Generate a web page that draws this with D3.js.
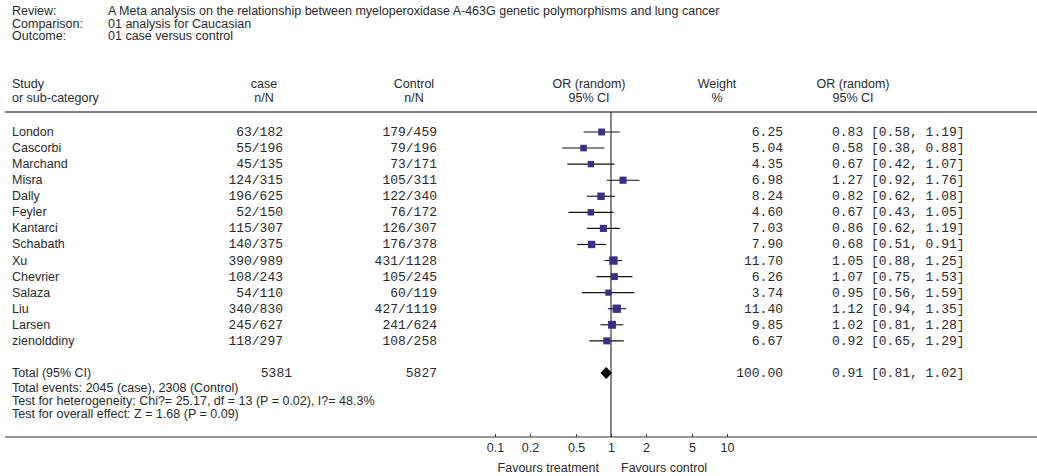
<!DOCTYPE html>
<html lang="en">
<head>
  <meta charset="UTF-8">
  <title>Forest plot: MPO A-463G and lung cancer</title>
  <script src="https://cdn.jsdelivr.net/npm/d3@7.9.0/dist/d3.min.js"></script>
  <style>
    html, body { margin: 0; padding: 0; background: #fff; }
    svg { display: block; }
    .sans { font-family: "Liberation Sans", Arial, sans-serif; font-size: 12.5px; fill: #2a2a2a; }
    .mono { font-family: "Liberation Mono", "Courier New", monospace; font-size: 13px; fill: #2a2a2a; }
  </style>
</head>
<body>
  <svg id="chart" width="1037" height="476"></svg>

  <script>
    // --- data ---
    const headerLabels = ["Review:", "Comparison:", "Outcome:"];
    const headerValues = [
      "A Meta analysis on the relationship between myeloperoxidase A-463G genetic polymorphisms and lung cancer",
      "01 analysis for Caucasian",
      "01 case versus control"
    ];
    const studies = ["London", "Cascorbi", "Marchand", "Misra", "Dally", "Feyler", "Kantarci",
      "Schabath", "Xu", "Chevrier", "Salaza", "Liu", "Larsen", "zienolddiny"];
    const caseN = ["63/182", "55/196", "45/135", "124/315", "196/625", "52/150", "115/307",
      "140/375", "390/989", "108/243", "54/110", "340/830", "245/627", "118/297"];
    const controlN = ["179/459", "79/196", "73/171", "105/311", "122/340", "76/172", "126/307",
      "176/378", "431/1128", "105/245", "60/119", "427/1119", "241/624", "108/258"];
    const weights = [6.25, 5.04, 4.35, 6.98, 8.24, 4.60, 7.03, 7.90, 11.70, 6.26, 3.74, 11.40, 9.85, 6.67];
    const orVals = [0.83, 0.58, 0.67, 1.27, 0.82, 0.67, 0.86, 0.68, 1.05, 1.07, 0.95, 1.12, 1.02, 0.92];
    const ciLow = [0.58, 0.38, 0.42, 0.92, 0.62, 0.43, 0.62, 0.51, 0.88, 0.75, 0.56, 0.94, 0.81, 0.65];
    const ciHigh = [1.19, 0.88, 1.07, 1.76, 1.08, 1.05, 1.19, 0.91, 1.25, 1.53, 1.59, 1.35, 1.28, 1.29];
    const total = { label: "Total (95% CI)", caseN: "5381", controlN: "5827", weight: 100.00, or: 0.91, lo: 0.81, hi: 1.02 };
    const footLines = [
      "Total events: 2045 (case), 2308 (Control)",
      "Test for heterogeneity: Chi?= 25.17, df = 13 (P = 0.02), I?= 48.3%",
      "Test for overall effect: Z = 1.68 (P = 0.09)"
    ];
    const tickValues = [0.1, 0.2, 0.5, 1, 2, 5, 10];

    const svg = d3.select("#chart");

    // scales
    const x = d3.scaleLog().domain([0.1, 10]).range([495, 727]);
    const y = d3.scaleLinear().domain([0, 15]).range([132, 373]); // row 14 left empty
    const boxSize = d3.scaleLinear().domain([3, 12]).range([6, 8.5]);

    const lineTop = 112, axisY = 437;

    // header block
    headerLabels.forEach((t, i) => {
      svg.append("text").attr("class", "sans").attr("x", 12).attr("y", 15 + i * 12.5).text(t);
      svg.append("text").attr("class", "sans").attr("x", 108).attr("y", 15 + i * 12.5).text(headerValues[i]);
    });

    // column headers
    const colHead = [
      { x: 12, anchor: "start", a: "Study", b: "or sub-category" },
      { x: 264, anchor: "middle", a: "case", b: "n/N" },
      { x: 414, anchor: "middle", a: "Control", b: "n/N" },
      { x: 589, anchor: "middle", a: "OR (random)", b: "95% CI" },
      { x: 717, anchor: "middle", a: "Weight", b: "%" },
      { x: 853, anchor: "middle", a: "OR (random)", b: "95% CI" }
    ];
    colHead.forEach(c => {
      svg.append("text").attr("class", "sans").attr("x", c.x).attr("y", 88).attr("text-anchor", c.anchor).text(c.a);
      svg.append("text").attr("class", "sans").attr("x", c.x).attr("y", 102).attr("text-anchor", c.anchor).text(c.b);
    });

    // separator line under the headers
    svg.append("line").attr("x1", 5).attr("x2", 1037).attr("y1", lineTop).attr("y2", lineTop)
      .attr("stroke", "#555").attr("stroke-width", 1.6);

    // line of no effect
    svg.append("line").attr("x1", x(1)).attr("x2", x(1)).attr("y1", lineTop).attr("y2", axisY)
      .attr("stroke", "#111").attr("stroke-width", 1);

    const fmt = d3.format(".2f");

    // study rows
    const rows = svg.append("g").selectAll("g").data(studies).join("g")
      .attr("transform", (d, i) => `translate(0,${y(i)})`);

    rows.append("text").attr("class", "sans").attr("x", 12).attr("y", 4).text(d => d);
    rows.append("text").attr("class", "mono").attr("x", 283).attr("y", 4).attr("text-anchor", "end")
      .text((d, i) => caseN[i]);
    rows.append("text").attr("class", "mono").attr("x", 437).attr("y", 4).attr("text-anchor", "end")
      .text((d, i) => controlN[i]);
    rows.append("line")
      .attr("x1", (d, i) => x(ciLow[i])).attr("x2", (d, i) => x(ciHigh[i]))
      .attr("y1", 0).attr("y2", 0).attr("stroke", "#111").attr("stroke-width", 1.1);
    rows.append("rect")
      .attr("x", (d, i) => x(orVals[i]) - boxSize(weights[i]) / 2)
      .attr("y", (d, i) => -boxSize(weights[i]) / 2)
      .attr("width", (d, i) => boxSize(weights[i]))
      .attr("height", (d, i) => boxSize(weights[i]))
      .attr("fill", "#3d2f86");
    rows.append("text").attr("class", "mono").attr("x", 783).attr("y", 4).attr("text-anchor", "end")
      .text((d, i) => fmt(weights[i]));
    rows.append("text").attr("class", "mono").attr("x", 832).attr("y", 4)
      .text((d, i) => `${fmt(orVals[i])} [${fmt(ciLow[i])}, ${fmt(ciHigh[i])}]`);

    // total row
    const ty = y(15);
    svg.append("text").attr("class", "sans").attr("x", 12).attr("y", ty + 4).text(total.label);
    svg.append("text").attr("class", "mono").attr("x", 292).attr("y", ty + 4).attr("text-anchor", "end").text(total.caseN);
    svg.append("text").attr("class", "mono").attr("x", 437).attr("y", ty + 4).attr("text-anchor", "end").text(total.controlN);
    svg.append("path")
      .attr("d", `M${x(total.lo)},${ty} L${x(total.or)},${ty - 6} L${x(total.hi)},${ty} L${x(total.or)},${ty + 6} Z`)
      .attr("fill", "#000");
    svg.append("text").attr("class", "mono").attr("x", 783).attr("y", ty + 4).attr("text-anchor", "end").text(fmt(total.weight));
    svg.append("text").attr("class", "mono").attr("x", 832).attr("y", ty + 4)
      .text(`${fmt(total.or)} [${fmt(total.lo)}, ${fmt(total.hi)}]`);

    footLines.forEach((t, i) => {
      svg.append("text").attr("class", "sans").attr("x", 12).attr("y", 392 + i * 13).text(t);
    });

    // bottom axis
    svg.append("line").attr("x1", 5).attr("x2", 1037).attr("y1", axisY).attr("y2", axisY)
      .attr("stroke", "#333").attr("stroke-width", 1.2);

    const axis = svg.append("g").attr("transform", `translate(0,${axisY})`)
      .call(d3.axisBottom(x).tickValues(tickValues).tickFormat(d3.format("")).tickSize(-3).tickPadding(6));
    axis.select(".domain").remove();
    axis.selectAll(".tick line").attr("stroke", "#333");
    axis.selectAll(".tick text")
      .attr("font-family", "\"Liberation Sans\", Arial, sans-serif").attr("font-size", 12.5).attr("fill", "#2a2a2a");

    svg.append("text").attr("class", "sans").attr("x", 599).attr("y", 472).attr("text-anchor", "end").text("Favours treatment");
    svg.append("text").attr("class", "sans").attr("x", 621).attr("y", 472).text("Favours control");
  </script>
</body>
</html>
